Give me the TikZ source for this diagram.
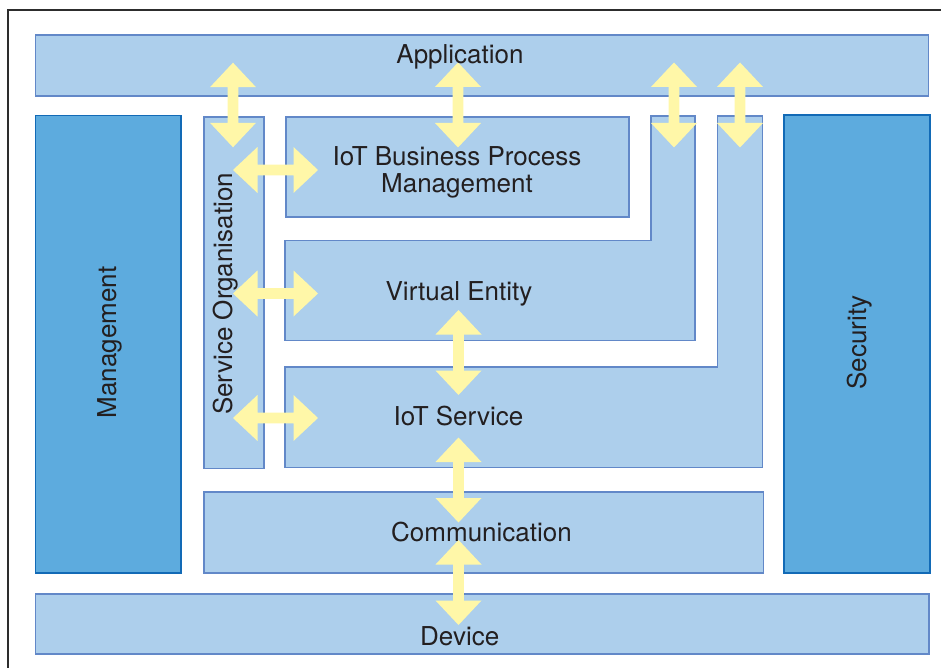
\documentclass[tikz,border=0pt]{standalone}
\usepackage{fontspec}
\setmainfont{TeX Gyre Heros}
\usetikzlibrary{calc}
\definecolor{lightfill}{RGB}{173,207,236}
\definecolor{lightedge}{RGB}{98,136,200}
\definecolor{darkfill}{RGB}{93,171,222}
\definecolor{darkedge}{RGB}{18,106,182}
\definecolor{arrowY}{RGB}{255,247,168}
\definecolor{txt}{RGB}{35,31,32}
\definecolor{framec}{RGB}{45,45,45}
\tikzset{
  lbox/.style={draw=lightedge, fill=lightfill, line width=1.8pt, inner sep=0pt, anchor=north west},
  dbox/.style={draw=darkedge, fill=darkfill, line width=1.8pt, inner sep=0pt, anchor=north west},
  lab/.style={text=txt, font=\fontsize{26}{27}\selectfont, inner sep=0pt, anchor=base},
  varrow/.style={fill=arrowY, draw=none, to path={
    let \p1=(\tikztostart), \p2=(\tikztotarget) in
    (\x1,\y1) -- (\x1+23pt,\y1-24.5pt) -- (\x1+5.3pt,\y1-24.5pt) -- (\x1+5.3pt,\y2+24.5pt)
    -- (\x1+23pt,\y2+24.5pt) -- (\x1,\y2) -- (\x1-23pt,\y2+24.5pt) -- (\x1-5.3pt,\y2+24.5pt)
    -- (\x1-5.3pt,\y1-24.5pt) -- (\x1-23pt,\y1-24.5pt) -- cycle}},
  harrow/.style={fill=arrowY, draw=none, to path={
    let \p1=(\tikztostart), \p2=(\tikztotarget) in
    (\x1,\y1) -- (\x1+24.5pt,\y1+23pt) -- (\x1+24.5pt,\y1+5.3pt) -- (\x2-24.5pt,\y1+5.3pt)
    -- (\x2-24.5pt,\y1+23pt) -- (\x2,\y1) -- (\x2-24.5pt,\y1-23pt) -- (\x2-24.5pt,\y1-5.3pt)
    -- (\x1+24.5pt,\y1-5.3pt) -- (\x1+24.5pt,\y1-23pt) -- cycle}},
}
\begin{document}
\begin{tikzpicture}[x=1pt,y=-1pt]
\path[use as bounding box] (0,0) rectangle (941,668);
\clip (0,0) rectangle (941,668);
\fill[white] (0,0) rectangle (941,668);
% outer frame
\draw[framec, line width=2pt] (7.5,700) -- (7.5,10.5) -- (980,10.5);

% boxes
\node[lbox, minimum width=893pt, minimum height=61pt] (app) at (34.5,34.5) {};
\node[dbox, minimum width=145.5pt, minimum height=457pt] (mgmt) at (34.5,114.7) {};
\node[dbox, minimum width=145.5pt, minimum height=457.5pt] (sec) at (783.3,114.3) {};
\node[lbox, minimum width=60.5pt, minimum height=351.5pt] (so) at (202.8,116) {};
\node[lbox, minimum width=343pt, minimum height=100.5pt] (bpm) at (285.3,116) {};
\draw[lbox] (651,115.7) -- (695,115.7) -- (695,340.5) -- (285.3,340.5) -- (285.3,240.5) -- (651,240.5) -- cycle;
\draw[lbox] (717.5,115.7) -- (762.5,115.7) -- (762.5,467.5) -- (285.3,467.5) -- (285.3,366.7) -- (717.5,366.7) -- cycle;
\node[lbox, minimum width=559.5pt, minimum height=81pt] (comm) at (203,490.7) {};
\node[lbox, minimum width=893.5pt, minimum height=60pt] (dev) at (34.5,592.7) {};

% arrow end points
\coordinate (a1t) at (233,62.7);   \coordinate (a1b) at (233,147.3);
\coordinate (a3t) at (458,62.5);   \coordinate (a3b) at (458,147.5);
\coordinate (a4t) at (674,62.5);   \coordinate (a4b) at (674,147.5);
\coordinate (a5t) at (740,62.5);   \coordinate (a5b) at (740,147.5);
\coordinate (h1l) at (233,170);    \coordinate (h1r) at (318,170);
\coordinate (h2l) at (233,293.5);  \coordinate (h2r) at (318,293.5);
\coordinate (h3l) at (233,418);    \coordinate (h3r) at (318,418);
\coordinate (v1t) at (458.5,310);  \coordinate (v1b) at (458.5,395);
\coordinate (v2t) at (458.5,437.5);\coordinate (v2b) at (458.5,522.5);
\coordinate (v3t) at (458.5,540);  \coordinate (v3b) at (458.5,625);

\path[varrow] (a1t) to (a1b);
\path[varrow] (a3t) to (a3b);
\path[varrow] (a4t) to (a4b);
\path[varrow] (a5t) to (a5b);
\path[harrow] (h1l) to (h1r);
\path[harrow] (h2l) to (h2r);
\path[harrow] (h3l) to (h3r);
\path[varrow] (v1t) to (v1b);
\path[varrow] (v2t) to (v2b);
\path[varrow] (v3t) to (v3b);

% labels
\node[lab] (tapp) at (460,63.3) {Application};
\node[lab] (tbpm1) at (457,166) {IoT Business Process};
\node[lab] (tbpm2) at (457,193) {Management};
\node[lab] (tve) at (459,300) {Virtual Entity};
\node[lab] (tios) at (458.5,425) {IoT Service};
\node[lab] (tcomm) at (481.5,541) {Communication};
\node[lab] (tdev) at (459.7,645) {Device};
\node[lab, rotate=90] (tmgmt) at (116,342.5) {Management};
\node[lab, rotate=90] (tsec) at (866,342.5) {Security};
\node[lab, rotate=90] (tso) at (232,294) {Service Organisation};
\end{tikzpicture}
\end{document}
